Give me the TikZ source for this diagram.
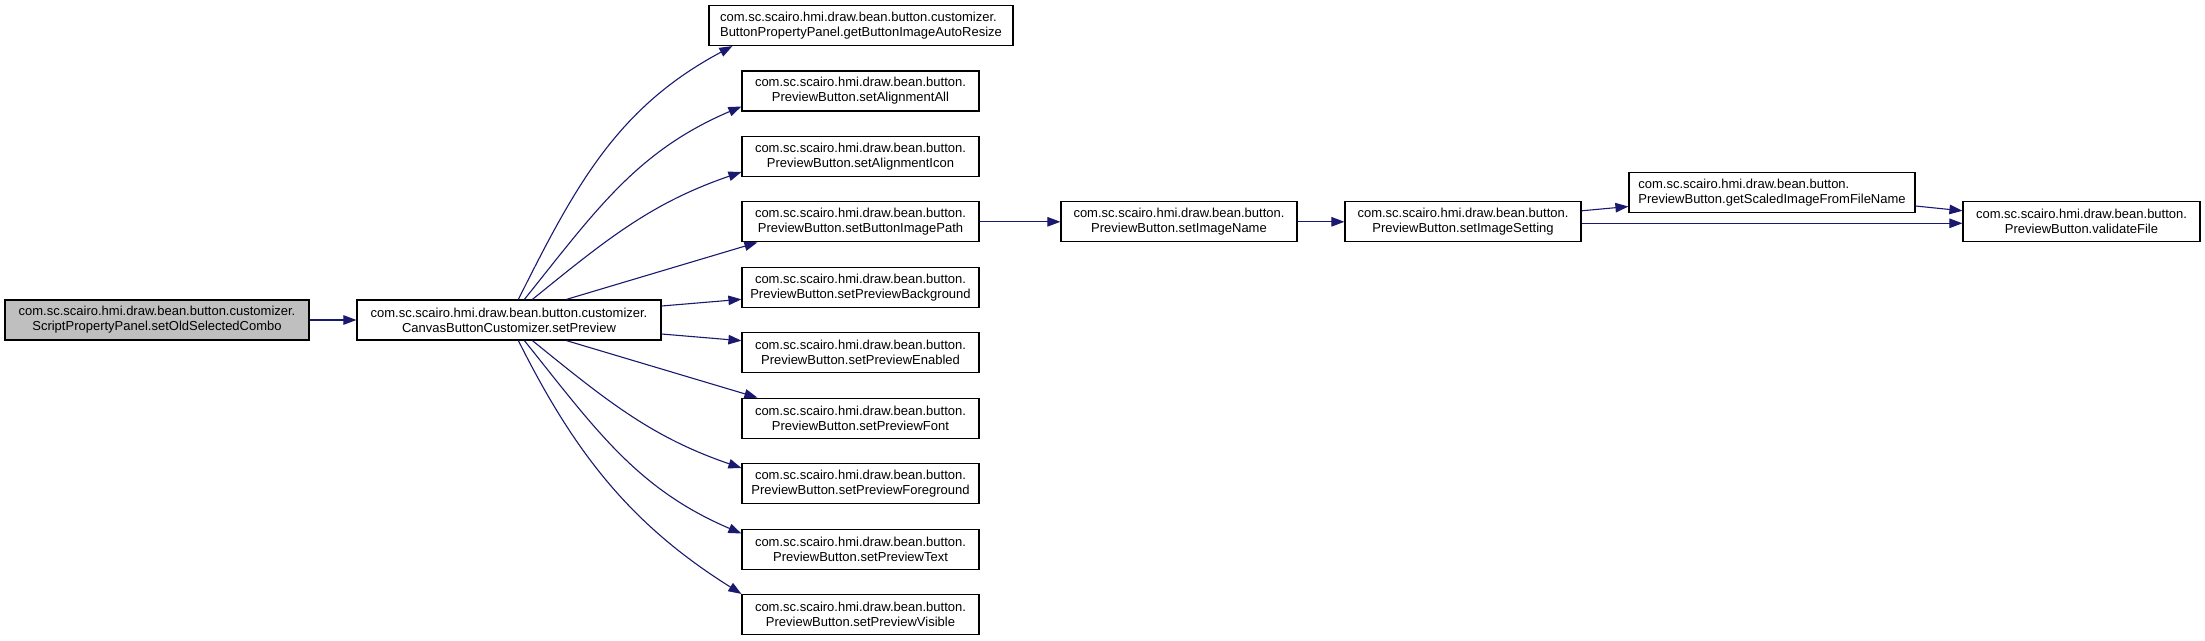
\documentclass[tikz,border=0pt]{standalone}
\usepackage{fontspec}
\setmainfont{Liberation Sans}
\usetikzlibrary{arrows.meta}
\definecolor{edgeblue}{HTML}{191970}
\definecolor{rootgray}{HTML}{BFBFBF}
\begin{document}
\begin{tikzpicture}[x=1pt,y=-1pt,
  fn/.style={draw=black, line width=1.2pt, fill=white, minimum height=40pt,
    inner sep=0pt, align=center, font=\fontsize{13pt}{15pt}\selectfont, text=black},
  widebox/.style={minimum width=304pt},
  smallbox/.style={minimum width=237pt},
  edge/.style={draw=edgeblue, line width=1.1pt, -{Triangle[length=13pt,width=9.5pt]}},
]
\useasboundingbox (0,0) rectangle (2205,640);
\fill[white] (0,0) rectangle (2205,640);

\node[fn, widebox, fill=rootgray] (A) at (157,320) {com.sc.scairo.hmi.draw.bean.button.customizer.\\ScriptPropertyPanel.setOldSelectedCombo};
\node[fn, widebox] (B) at (509,320) {com.sc.scairo.hmi.draw.bean.button.customizer.\\CanvasButtonCustomizer.setPreview};

\node[fn, widebox, align=left] (C1) at (861,25.5) {com.sc.scairo.hmi.draw.bean.button.customizer.\\ButtonPropertyPanel.getButtonImageAutoResize};
\node[fn, smallbox] (C2) at (860.5,90.9) {com.sc.scairo.hmi.draw.bean.button.\\PreviewButton.setAlignmentAll};
\node[fn, smallbox] (C3) at (860.5,156.4) {com.sc.scairo.hmi.draw.bean.button.\\PreviewButton.setAlignmentIcon};
\node[fn, smallbox] (C4) at (860.5,221.8) {com.sc.scairo.hmi.draw.bean.button.\\PreviewButton.setButtonImagePath};
\node[fn, smallbox] (C5) at (860.5,287.3) {com.sc.scairo.hmi.draw.bean.button.\\PreviewButton.setPreviewBackground};
\node[fn, smallbox] (C6) at (860.5,352.7) {com.sc.scairo.hmi.draw.bean.button.\\PreviewButton.setPreviewEnabled};
\node[fn, smallbox] (C7) at (860.5,418.2) {com.sc.scairo.hmi.draw.bean.button.\\PreviewButton.setPreviewFont};
\node[fn, smallbox] (C8) at (860.5,483.6) {com.sc.scairo.hmi.draw.bean.button.\\PreviewButton.setPreviewForeground};
\node[fn, smallbox] (C9) at (860.5,549.1) {com.sc.scairo.hmi.draw.bean.button.\\PreviewButton.setPreviewText};
\node[fn, smallbox] (C10) at (860.5,614.5) {com.sc.scairo.hmi.draw.bean.button.\\PreviewButton.setPreviewVisible};

\node[fn, minimum width=236pt] (D) at (1179,221.8) {com.sc.scairo.hmi.draw.bean.button.\\PreviewButton.setImageName};
\node[fn, minimum width=236pt] (E) at (1463,221.8) {com.sc.scairo.hmi.draw.bean.button.\\PreviewButton.setImageSetting};
\node[fn, minimum width=286pt, align=left] (F) at (1772,192.5) {com.sc.scairo.hmi.draw.bean.button.\\PreviewButton.getScaledImageFromFileName};
\node[fn, smallbox] (G) at (2081.5,221.8) {com.sc.scairo.hmi.draw.bean.button.\\PreviewButton.validateFile};

% edges
\draw[edge] (A.east) -- (B.west);

\draw[edge] ([xshift=162pt]B.north west) .. controls (576,184) and (618,107) .. ([xshift=24pt]C1.south west);
\draw[edge] ([xshift=168pt]B.north west) .. controls (596,210) and (637,151) .. ([yshift=5pt]C2.south west);
\draw[edge] ([xshift=176pt]B.north west) .. controls (607,239) and (651,203) .. ([yshift=5pt]C3.south west);
\draw[edge] ([xshift=210pt]B.north west) -- ([xshift=16pt]C4.south west);
\draw[edge] ([yshift=14pt]B.east) -- ([yshift=-12pt]C5.west);
\draw[edge] ([yshift=-14pt]B.east) -- ([yshift=12pt]C6.west);
\draw[edge] ([xshift=210pt]B.south west) -- ([xshift=16pt]C7.north west);
\draw[edge] ([xshift=176pt]B.south west) .. controls (607,401) and (651,437) .. ([yshift=-5pt]C8.north west);
\draw[edge] ([xshift=168pt]B.south west) .. controls (596,430) and (637,489) .. ([yshift=-5pt]C9.north west);
\draw[edge] ([xshift=162pt]B.south west) .. controls (576,456) and (633,526) .. (C10.north west);

\draw[edge] (C4.east) -- (D.west);
\draw[edge] (D.east) -- (E.west);
\draw[edge] ([yshift=11pt]E.east) -- ([yshift=-14pt]F.west);
\draw[edge] ([yshift=-1.5pt]E.east) -- ([yshift=-1.5pt]G.west);
\draw[edge] ([yshift=-13.5pt]F.east) -- ([yshift=11pt]G.west);
\end{tikzpicture}
\end{document}
